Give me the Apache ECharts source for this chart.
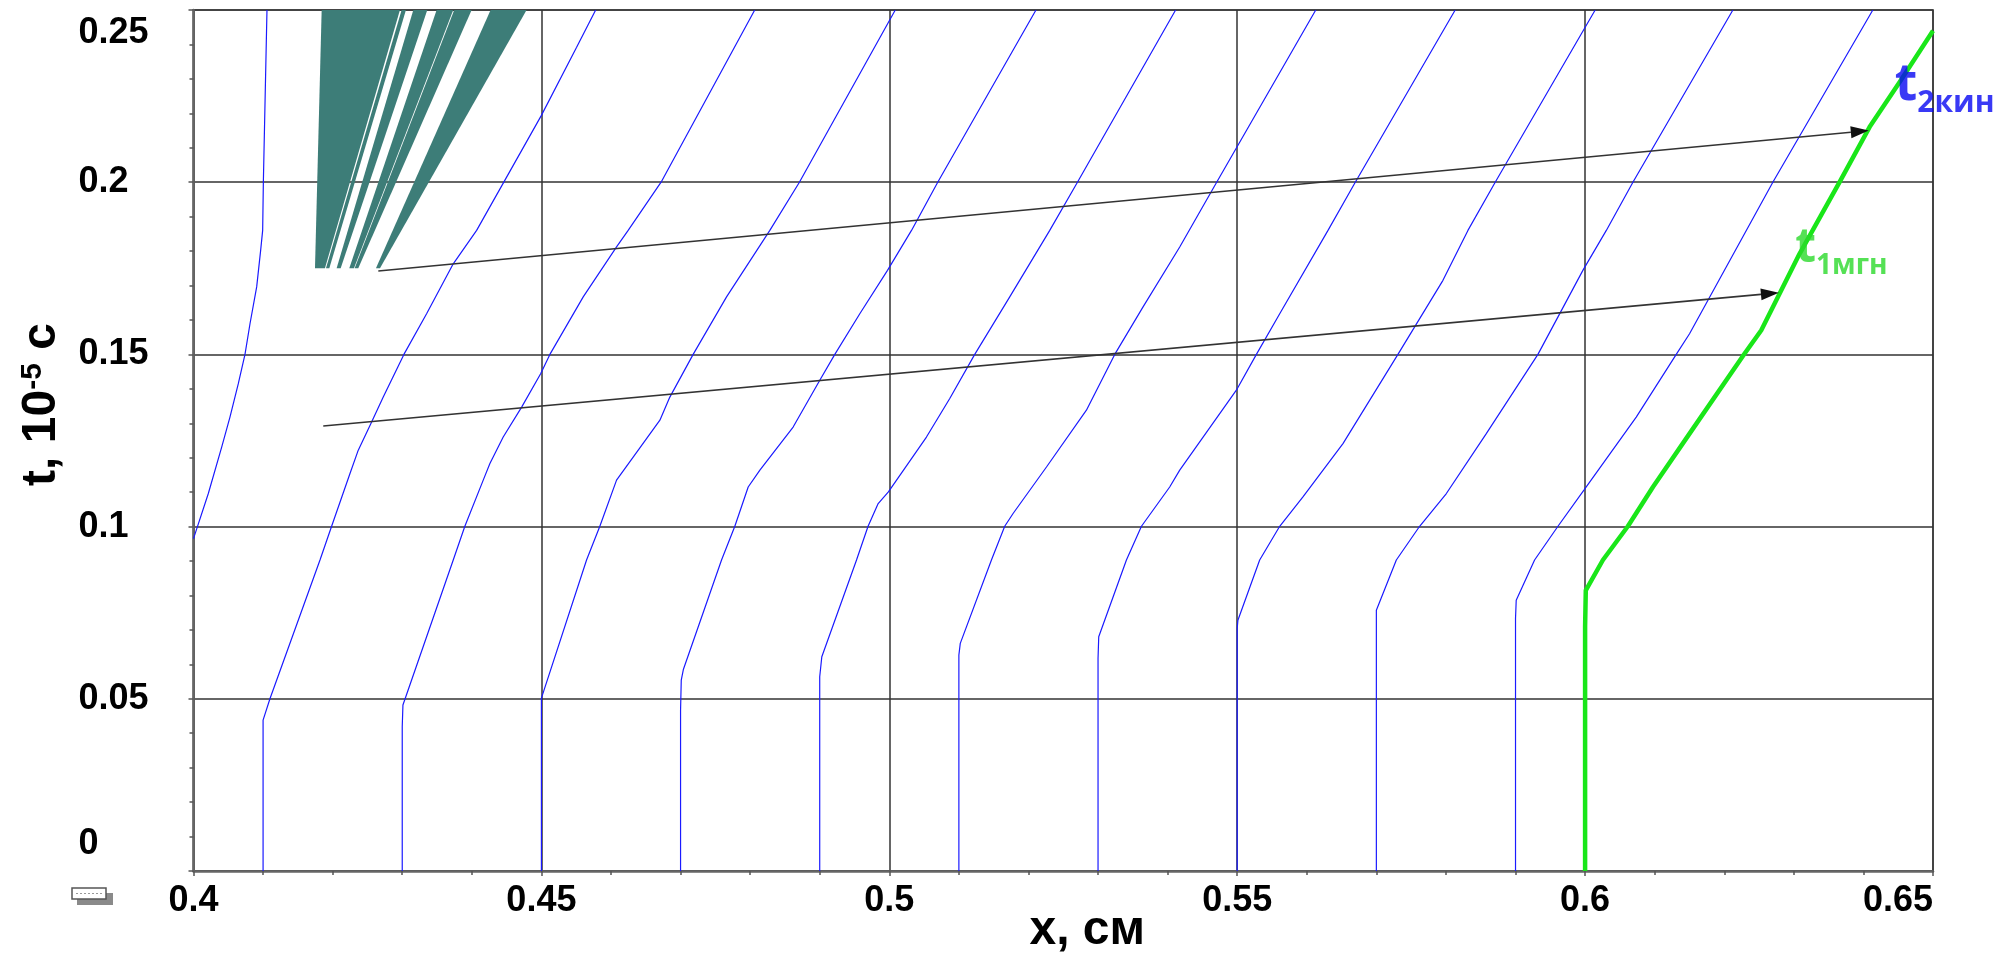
<!DOCTYPE html>
<html>
<head>
<meta charset="utf-8">
<title>t(x)</title>
<script src="https://cdn.jsdelivr.net/npm/echarts@6/dist/echarts.min.js"></script>
<style>
    html, body { margin: 0; padding: 0; background: #fff; }
    #chart { width: 1997px; height: 957px; }
</style>
</head>
<body>
<div id="chart"></div>
<script>
// оси
const xTicks = [0.4, 0.45, 0.5, 0.55, 0.6, 0.65];
const yTicks = [0, 0.05, 0.1, 0.15, 0.2, 0.25];

// синие кривые, точки [x, t]
const curveEdge = [[0.4, 0.0965], [0.40213, 0.1096], [0.40405, 0.1231], [0.40524, 0.1318], [0.40644, 0.1415], [0.4074, 0.15], [0.40812, 0.1589], [0.40908, 0.1696], [0.40965, 0.1802], [0.40994, 0.186], [0.41004, 0.2], [0.41056, 0.25]];
const curve041 = [[0.41, 0], [0.41, 0.0438], [0.411, 0.0501], [0.41818, 0.0903], [0.41985, 0.1001], [0.42249, 0.1154], [0.42368, 0.1222], [0.4256, 0.1304], [0.42727, 0.1376], [0.43024, 0.15], [0.4335, 0.1618], [0.43733, 0.1763], [0.44069, 0.186], [0.45, 0.2194], [0.45506, 0.2392], [0.4578, 0.25]];
const curve043 = [[0.43, 0], [0.43, 0.0419], [0.4301, 0.0482], [0.43733, 0.0903], [0.439, 0.1001], [0.44164, 0.1135], [0.4426, 0.1183], [0.44451, 0.126], [0.44716, 0.1347], [0.44989, 0.1444], [0.45122, 0.15], [0.45601, 0.1667], [0.4608, 0.1812], [0.46247, 0.186], [0.4672, 0.2], [0.48066, 0.25]];
const curve045 = [[0.45, 0], [0.45, 0.0502], [0.45649, 0.0903], [0.4584, 0.1001], [0.4608, 0.1135], [0.46319, 0.1202], [0.46703, 0.1309], [0.46846, 0.1376], [0.47181, 0.15], [0.47661, 0.1667], [0.48283, 0.186], [0.48708, 0.2], [0.50086, 0.25]];
const curve047 = [[0.47, 0], [0.47, 0.0467], [0.4701, 0.0554], [0.4704, 0.0585], [0.47589, 0.0903], [0.4778, 0.1001], [0.47972, 0.1115], [0.4814, 0.1164], [0.48618, 0.1289], [0.49001, 0.1425], [0.49217, 0.15], [0.49576, 0.1618], [0.49974, 0.1744], [0.50319, 0.186], [0.50696, 0.2], [0.52108, 0.25]];
const curve049 = [[0.49, 0], [0.49, 0.0564], [0.4903, 0.0622], [0.49529, 0.0903], [0.49695, 0.1001], [0.4984, 0.1067], [0.49987, 0.1101], [0.50534, 0.126], [0.50869, 0.1372], [0.51228, 0.15], [0.51731, 0.1667], [0.52306, 0.186], [0.52704, 0.2], [0.54115, 0.25]];
const curve051 = [[0.51, 0], [0.51, 0.0627], [0.5102, 0.0661], [0.51468, 0.0903], [0.51659, 0.1001], [0.51779, 0.1038], [0.52259, 0.1173], [0.52833, 0.1338], [0.5324, 0.15], [0.53647, 0.1638], [0.54174, 0.1812], [0.54705, 0.2], [0.56129, 0.25]];
const curve053 = [[0.53, 0], [0.53, 0.0617], [0.5301, 0.068], [0.53408, 0.0903], [0.53624, 0.1001], [0.5403, 0.1115], [0.54174, 0.1164], [0.54988, 0.1396], [0.55276, 0.15], [0.55611, 0.1618], [0.56305, 0.186], [0.56697, 0.2], [0.58133, 0.25]];
const curve055 = [[0.55, 0], [0.55, 0.0704], [0.5501, 0.0728], [0.55323, 0.0903], [0.55611, 0.1001], [0.55945, 0.1086], [0.5652, 0.1241], [0.5731, 0.15], [0.57957, 0.1715], [0.58316, 0.186], [0.58708, 0.2], [0.60145, 0.25]];
const curve057 = [[0.57, 0], [0.57, 0.067], [0.57, 0.0757], [0.57287, 0.0903], [0.57622, 0.1001], [0.58006, 0.1096], [0.5858, 0.127], [0.59322, 0.15], [0.59968, 0.1744], [0.60305, 0.186], [0.60687, 0.2], [0.62124, 0.25]];
const curve059 = [[0.59, 0], [0.59, 0.0733], [0.5901, 0.0786], [0.59274, 0.0903], [0.5961, 0.1001], [0.59983, 0.1106], [0.60735, 0.1318], [0.6131, 0.15], [0.61501, 0.156], [0.62698, 0.2], [0.64135, 0.25]];

// зелёная кривая (фронт)
const greenFront = [[0.6, 0], [0.6, 0.0709], [0.6001, 0.0815], [0.60256, 0.0903], [0.60615, 0.1001], [0.60975, 0.1115], [0.61501, 0.127], [0.62283, 0.15], [0.62532, 0.157], [0.63082, 0.1792], [0.63657, 0.2], [0.64088, 0.216], [0.64519, 0.229], [0.65, 0.244]];

// тёмно-бирюзовые клинья сверху слева
const tealWedges = [
    [[0.41746, 0.175], [0.41889, 0.175], [0.42967, 0.25], [0.41842, 0.25]],
    [[0.41904, 0.175], [0.41952, 0.175], [0.43053, 0.25], [0.42991, 0.25]],
    [[0.42057, 0.175], [0.42115, 0.175], [0.4336, 0.25], [0.43159, 0.25]],
    [[0.42239, 0.175], [0.42306, 0.175], [0.43733, 0.25], [0.43494, 0.25]],
    [[0.42316, 0.175], [0.42368, 0.175], [0.43997, 0.25], [0.43747, 0.25]],
    [[0.42622, 0.175], [0.4268, 0.175], [0.44787, 0.25], [0.4427, 0.25]]
];

// стрелки [x1, t1, x2, t2]
const arrowUpper = [0.42656, 0.1742, 0.64077, 0.215];
const arrowLower = [0.41865, 0.1292, 0.62785, 0.1679];

// подписи
const labelT2 = [0.6445, 0.2282];
const labelT1 = [0.6302, 0.1808];

const blueCurves = [curveEdge, curve041, curve043, curve045, curve047, curve049, curve051, curve053, curve055, curve057, curve059];

const BLUE = '#1a1aff';
const GREEN = '#19e619';
const TEAL = '#3d7d78';
const FONT = '"Liberation Sans", Arial, sans-serif';
const LABEL_FONT = '"Open Sans", "Noto Sans", sans-serif';

const tickFont = { fontSize: 36, fontWeight: 'bold', fontFamily: FONT, color: '#000' };

const chart = echarts.init(document.getElementById('chart'), null, { renderer: 'canvas' });

const series = [];

series.push({
    name: 'wedges',
    type: 'custom',
    z: 2,
    data: tealWedges.map((w, i) => [w[0][0], w[0][1], i]),
    renderItem: (params, api) => {
        const poly = tealWedges[api.value(2)].map(p => api.coord(p));
        return { type: 'polygon', shape: { points: poly }, style: { fill: TEAL } };
    }
});

blueCurves.forEach((c, i) => {
    series.push({
        name: 'blue' + i,
        type: 'line',
        data: c,
        symbol: 'none',
        showSymbol: false,
        clip: true,
        z: 3,
        lineStyle: { color: BLUE, width: 1.2 }
    });
});

series.push({
    name: 'front',
    type: 'line',
    data: greenFront,
    symbol: 'none',
    showSymbol: false,
    clip: true,
    z: 5,
    lineStyle: { color: GREEN, width: 4.5, join: 'round' }
});

series.push({
    name: 'arrows',
    type: 'custom',
    z: 6,
    data: [arrowUpper, arrowLower],
    encode: { x: [0, 2], y: [1, 3] },
    renderItem: (params, api) => {
        const p1 = api.coord([api.value(0), api.value(1)]);
        const p2 = api.coord([api.value(2), api.value(3)]);
        const dx = p2[0] - p1[0], dy = p2[1] - p1[1];
        const len = Math.hypot(dx, dy);
        const ux = dx / len, uy = dy / len;
        const hl = 18, hw = 6;
        const bx = p2[0] - ux * hl, by = p2[1] - uy * hl;
        return {
            type: 'group',
            children: [
                { type: 'line', shape: { x1: p1[0], y1: p1[1], x2: bx, y2: by }, style: { stroke: '#333', lineWidth: 1.6 } },
                { type: 'polygon', shape: { points: [p2, [bx - uy * hw, by + ux * hw], [bx + uy * hw, by - ux * hw]] }, style: { fill: '#111' } }
            ]
        };
    }
});

const subLabel = (main, sub, color, mainSize, subSize) => ({
    show: true,
    position: 'right',
    distance: 0,
    formatter: '{t|' + main + '}{s|' + sub + '}',
    rich: {
        t: { fontSize: mainSize, fontWeight: 'bold', fontFamily: LABEL_FONT, color: color },
        s: { fontSize: subSize, fontWeight: 'bold', fontFamily: LABEL_FONT, color: color, padding: [36, 0, 0, 0] }
    }
});

series.push({
    name: 'labels',
    type: 'scatter',
    z: 8,
    symbolSize: 0,
    data: [
        { value: labelT2, label: subLabel('t', '2кин', '#0808f2', 52, 30) },
        { value: labelT1, label: subLabel('t', '1мгн', '#2bd92b', 48, 28) }
    ]
});

chart.setOption({
    animation: false,
    backgroundColor: '#fff',
    grid: {
        left: 193.5, right: 64, top: 10, bottom: 86,
        containLabel: false,
        outerBoundsMode: 'none',
        show: true,
        borderColor: '#7a7a7a',
        borderWidth: 2
    },
    xAxis: {
        type: 'value',
        min: xTicks[0],
        max: xTicks[xTicks.length - 1],
        interval: 0.05,
        axisLine: { show: true, onZero: false, lineStyle: { color: '#666', width: 2.5 } },
        axisTick: { show: true, inside: false, length: 5, lineStyle: { color: '#555', width: 1.5 } },
        minorTick: { show: true, splitNumber: 5, length: 4, lineStyle: { color: '#555', width: 1.5 } },
        splitLine: { show: true, lineStyle: { color: '#333', width: 1.5 } },
        axisLabel: Object.assign({
            margin: 12,
            showMinLabel: true,
            showMaxLabel: true,
            alignMaxLabel: 'right',
            formatter: v => String(+v.toFixed(2))
        }, tickFont),
        name: 'x, см',
        nameLocation: 'middle',
        nameGap: 36,
        nameMoveOverlap: false,
        nameTextStyle: { fontSize: 48, fontWeight: 'bold', fontFamily: FONT, color: '#000', padding: [0, 0, 0, 48] }
    },
    yAxis: {
        type: 'value',
        min: yTicks[0],
        max: yTicks[yTicks.length - 1],
        interval: 0.05,
        axisLine: { show: true, onZero: false, lineStyle: { color: '#666', width: 2.5 } },
        axisTick: { show: true, inside: false, length: 5, lineStyle: { color: '#555', width: 1.5 } },
        minorTick: { show: true, splitNumber: 5, length: 4, lineStyle: { color: '#555', width: 1.5 } },
        splitLine: { show: true, lineStyle: { color: '#333', width: 1.5 } },
        axisLabel: Object.assign({
            margin: 115,
            align: 'left',
            showMinLabel: true,
            showMaxLabel: true,
            formatter: v => {
                const s = String(+v.toFixed(2));
                if (v === yTicks[0]) return '{lo|' + s + '}';
                if (Math.abs(v - yTicks[yTicks.length - 1]) < 1e-9) return '{hi|' + s + '}';
                return s;
            },
            rich: {
                lo: Object.assign({ padding: [0, 0, 54, 0] }, tickFont),
                hi: Object.assign({ padding: [46, 0, 0, 0] }, tickFont)
            }
        }, tickFont),
        name: '{a|t, 10}{sup|-5}{a| c}',
        nameLocation: 'middle',
        nameGap: 128,
        nameTextStyle: {
            padding: [0, 0, 0, 72],
            rich: {
                a: { fontSize: 48, fontWeight: 'bold', fontFamily: FONT, color: '#000' },
                sup: { fontSize: 30, fontWeight: 'bold', fontFamily: FONT, color: '#000', verticalAlign: 'top' }
            }
        }
    },
    graphic: [
        { type: 'rect', shape: { x: 77, y: 893, width: 36, height: 12 }, style: { fill: '#8a8a8a' } },
        { type: 'rect', shape: { x: 72, y: 888, width: 34, height: 11 }, style: { fill: '#fff', stroke: '#555', lineWidth: 1.5 } },
        { type: 'line', shape: { x1: 76, y1: 893.5, x2: 102, y2: 893.5 }, style: { stroke: '#999', lineWidth: 1, lineDash: [2, 2] } }
    ],
    series: series
});

window.addEventListener('resize', () => chart.resize());
</script>
</body>
</html>
